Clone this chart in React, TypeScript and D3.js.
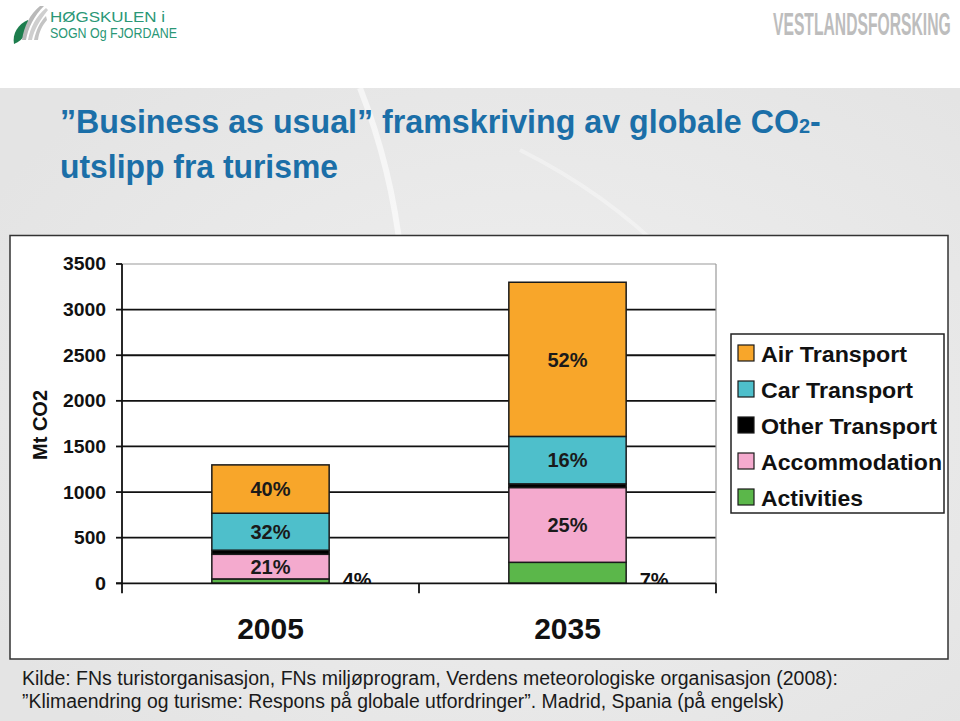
import React from "react";
import * as d3 from "d3";

const categories = ["2005", "2035"];
const seriesNames = ["Air Transport", "Car Transport", "Other Transport", "Accommodation", "Activities"];
const seriesKeys = ["air", "car", "other", "accommodation", "activities"];
const seriesColors = ["#F8A62A", "#4EBFCB", "#000000", "#F4AACE", "#5BB74A"];

const airValues = [530, 1690];
const carValues = [405, 520];
const otherValues = [45, 40];
const accommodationValues = [270, 820];
const activitiesValues = [48, 230];

const airLabels = ["40%", "52%"];
const carLabels = ["32%", "16%"];
const otherLabels = ["", ""];
const accommodationLabels = ["21%", "25%"];
const activitiesLabels = ["4%", "7%"];

const yTicks = [0, 500, 1000, 1500, 2000, 2500, 3000, 3500];

const titleLine1 = "\u201DBusiness as usual\u201D framskriving av globale CO";
const titleLine2 = "utslipp fra turisme";
const footer1 = "Kilde: FNs turistorganisasjon, FNs milj\u00F8program, Verdens meteorologiske organisasjon (2008):";
const footer2 = "\u201DKlimaendring og turisme: Respons p\u00E5 globale utfordringer\u201D. Madrid, Spania (p\u00E5 engelsk)";
const logoLine1 = "H\u00D8GSKULEN i";
const logoLine2 = "SOGN Og FJORDANE";
const logoRight = "VESTLANDSFORSKING";

const legendWidths = [146, 152, 176, 181, 102];

export default function App() {
  const W = 960, H = 721;
  const plot = { left: 122, right: 716, top: 264, bottom: 583.3 };
  const x = d3.scaleBand<string>().domain(categories).range([plot.left, plot.right]).padding(0);
  const y = d3.scaleLinear().domain([0, 3500]).range([plot.bottom, plot.top]);
  const barW = x.bandwidth() * 0.395;

  const rows = categories.map((c, i) => ({
    cat: c,
    air: airValues[i],
    car: carValues[i],
    other: otherValues[i],
    accommodation: accommodationValues[i],
    activities: activitiesValues[i],
  }));
  const labelMap: Record<string, string[]> = {
    air: airLabels,
    car: carLabels,
    other: otherLabels,
    accommodation: accommodationLabels,
    activities: activitiesLabels,
  };
  const colorMap: Record<string, string> = {};
  seriesKeys.forEach((k, i) => (colorMap[k] = seriesColors[i]));
  const stackKeys = [...seriesKeys].reverse();
  const stacked = d3.stack<any>().keys(stackKeys)(rows);

  const font = "'Liberation Sans', Arial, Helvetica, sans-serif";

  return (
    <div style={{ position: "absolute", left: 0, top: 0, width: W, height: H }}>
      <svg width={W} height={H} viewBox={`0 0 ${W} ${H}`} style={{ display: "block", fontFamily: font }}>
        <defs>
          <radialGradient id="globe" cx="0.55" cy="0.45" r="0.6">
            <stop offset="0" stopColor="#f0f0f0" />
            <stop offset="1" stopColor="#e4e4e4" />
          </radialGradient>
          <clipPath id="plotClip">
            <rect x={plot.left} y={0} width={plot.right - plot.left + 60} height={plot.bottom} />
          </clipPath>
        </defs>
        <rect x={0} y={0} width={W} height={H} fill="#ffffff" />
        <rect x={-40} y={88} width={W + 80} height={H} rx={40} fill="url(#globe)" />
        <path d="M 360 88 Q 420 240 400 420" fill="none" stroke="#ffffff" strokeOpacity={0.6} strokeWidth={6} />
        <path d="M 520 150 Q 700 240 780 420" fill="none" stroke="#ffffff" strokeOpacity={0.35} strokeWidth={4} />

        {/* logos */}
        <g>
          <path d="M 14 44 C 12 34 18 24 28 20 C 30 30 24 40 14 44 Z" fill="#1d7d4d" />
          <path d="M 22 40 C 24 26 30 14 40 6 L 44 6 C 34 16 28 28 26 40 Z" fill="#b9b9b9" />
          <path d="M 28 40 C 30 28 36 16 46 8 L 48 10 C 40 20 34 30 32 40 Z" fill="#cfcfcf" />
          <path d="M 34 40 C 36 30 40 22 46 16 L 47 20 C 42 26 39 32 38 40 Z" fill="#c4c4c4" />
          <text x={50} y={22} fontSize={14} fill="#2a9776" textLength={115} lengthAdjust="spacingAndGlyphs">{logoLine1}</text>
          <text x={50} y={38} fontSize={14} fill="#2a9776" textLength={127} lengthAdjust="spacingAndGlyphs">{logoLine2}</text>
          <text transform="translate(773,35) scale(0.49,1)" fontSize={32} fontWeight="bold" fill="#bdbdbd">{logoRight}</text>
        </g>

        {/* title */}
        <text transform="translate(60,133) scale(0.947,1)" fontSize={34} fontWeight="bold" fill="#1b6fa8">
          {titleLine1}<tspan fontSize={21}>2</tspan><tspan>-</tspan>
        </text>
        <text x={60} y={178} fontSize={34} fontWeight="bold" fill="#1b6fa8" textLength={278} lengthAdjust="spacingAndGlyphs">
          {titleLine2}
        </text>

        {/* chart frame */}
        <rect x={10} y={235.5} width={938} height={423.5} fill="#ffffff" stroke="#333" strokeWidth={1.5} />

        {/* grid */}
        {yTicks.filter((t) => t > 0).map((t) => (
          <line key={t} x1={plot.left} x2={plot.right} y1={y(t)} y2={y(t)} stroke={t === 3500 ? "#999" : "#111"} strokeWidth={t === 3500 ? 1.2 : 1.8} />
        ))}
        <line x1={plot.right} x2={plot.right} y1={plot.top} y2={plot.bottom} stroke="#999" strokeWidth={1.2} />

        {/* outside labels (clipped at axis) */}
        <g clipPath="url(#plotClip)">
          {categories.map((c, i) => (
            <text key={c} x={(x(c) as number) + x.bandwidth() / 2 + barW / 2 + 28} y={plot.bottom + 4} textAnchor="middle" fontSize={20} fontWeight="bold" fill="#111">
              {labelMap.activities[i]}
            </text>
          ))}
        </g>

        {/* bars */}
        {stacked.map((layer) => (
          <g key={layer.key}>
            {layer.map((d, i) => {
              const cx = (x(categories[i]) as number) + x.bandwidth() / 2;
              return (
                <rect key={i} x={cx - barW / 2} y={y(d[1])} width={barW} height={y(d[0]) - y(d[1])} fill={colorMap[layer.key]} stroke="#1a1a1a" strokeWidth={1.5} />
              );
            })}
          </g>
        ))}
        {stacked.map((layer) =>
          layer.map((d, i) => {
            if (layer.key === "activities") return null;
            const lab = labelMap[layer.key][i];
            if (!lab) return null;
            const cx = (x(categories[i]) as number) + x.bandwidth() / 2;
            return (
              <text key={layer.key + i} x={cx} y={(y(d[0]) + y(d[1])) / 2} dy="0.36em" textAnchor="middle" fontSize={20} fontWeight="bold" fill="#1a1a1a">
                {lab}
              </text>
            );
          })
        )}

        {/* axes */}
        <line x1={plot.left} x2={plot.left} y1={plot.top} y2={plot.bottom + 10} stroke="#111" strokeWidth={1.8} />
        <line x1={plot.left - 6} x2={plot.right} y1={plot.bottom} y2={plot.bottom} stroke="#111" strokeWidth={1.8} />
        {yTicks.map((t) => (
          <g key={t}>
            <line x1={plot.left - 6} x2={plot.left} y1={y(t)} y2={y(t)} stroke="#111" strokeWidth={1.8} />
            <text x={106} y={y(t)} dy="0.36em" textAnchor="end" fontSize={18} fontWeight="bold" fill="#111" textLength={t === 0 ? 11 : t < 1000 ? 32 : 43} lengthAdjust="spacingAndGlyphs">{t}</text>
          </g>
        ))}
        {categories.map((c) => (
          <line key={c} x1={(x(c) as number) + x.bandwidth()} x2={(x(c) as number) + x.bandwidth()} y1={plot.bottom} y2={plot.bottom + 10} stroke="#111" strokeWidth={1.8} />
        ))}
        {categories.map((c) => (
          <text key={c} x={(x(c) as number) + x.bandwidth() / 2} y={639} textAnchor="middle" fontSize={30} fontWeight="bold" fill="#111">{c}</text>
        ))}
        <text transform={`translate(47,425) rotate(-90)`} textAnchor="middle" fontSize={20} fontWeight="bold" fill="#111">Mt CO2</text>

        {/* legend */}
        <rect x={731} y={334} width={213} height={179} fill="#fff" stroke="#222" strokeWidth={1.5} />
        {seriesNames.map((n, i) => {
          const cy = 353 + i * 36;
          return (
            <g key={n}>
              <rect x={738} y={cy - 8} width={16} height={16} fill={seriesColors[i]} stroke="#1a1a1a" strokeWidth={1.2} />
              <text x={761} y={cy + 8.5} fontSize={22} fontWeight="bold" fill="#111" textLength={legendWidths[i]} lengthAdjust="spacingAndGlyphs">{n}</text>
            </g>
          );
        })}

        {/* footer */}
        <text x={22} y={685} fontSize={20} fill="#1a1a1a" textLength={816} lengthAdjust="spacingAndGlyphs">{footer1}</text>
        <text x={22} y={708} fontSize={20} fill="#1a1a1a" textLength={762} lengthAdjust="spacingAndGlyphs">{footer2}</text>
      </svg>
    </div>
  );
}
